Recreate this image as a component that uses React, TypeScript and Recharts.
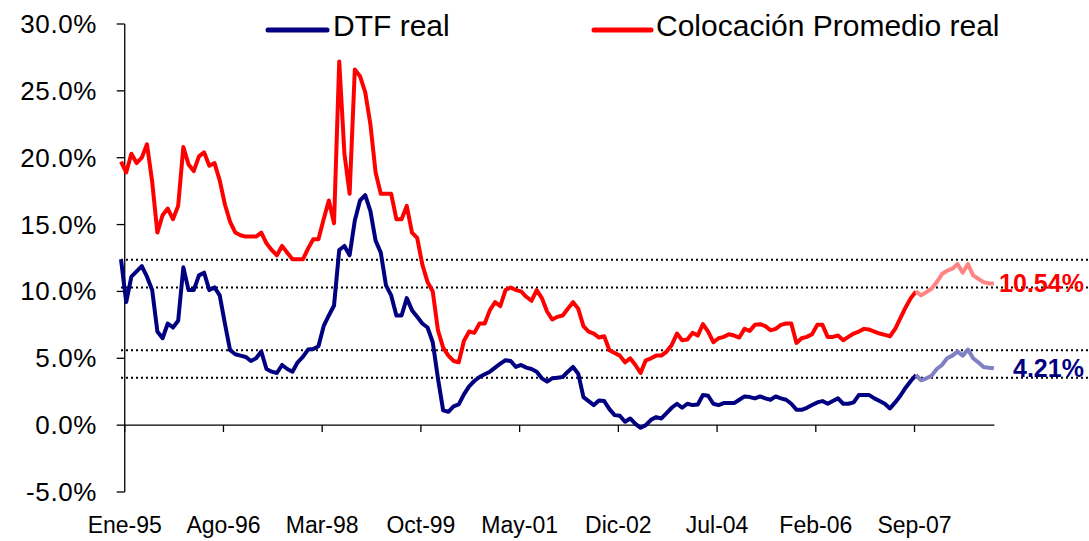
import React from "react"
import { LineChart, Line, XAxis, YAxis, ReferenceLine, LabelList } from "recharts"

// monthly, Ene-95 .. Ene-09
const colocacion = [
  19.7, 18.9, 20.3, 19.6, 20.0, 21.0, 18.2, 14.4, 15.7, 16.2,
  15.4, 16.4, 20.8, 19.5, 19.0, 20.1, 20.4, 19.4, 19.6, 18.3,
  16.5, 15.2, 14.4, 14.2, 14.1, 14.1, 14.1, 14.4, 13.6, 13.1,
  12.7, 13.4, 12.9, 12.4, 12.4, 12.4, 13.2, 13.9, 13.9, 15.4,
  16.8, 15.1, 27.2, 20.3, 17.3, 26.6, 26.1, 24.9, 22.5, 18.9,
  17.3, 17.3, 17.3, 15.4, 15.4, 16.4, 14.4, 14.0, 12.0, 10.7,
  10.0, 7.1, 5.8, 5.2, 4.8, 4.7, 6.3, 7.0, 6.9, 7.6,
  7.6, 8.6, 9.2, 8.9, 10.1, 10.3, 10.1, 10.0, 9.6, 9.3,
  10.1, 9.5, 8.5, 7.9, 8.1, 8.2, 8.7, 9.2, 8.7, 7.4,
  7.0, 6.85, 6.55, 6.65, 5.6, 5.4, 5.2, 4.7, 5.0, 4.5,
  3.9, 4.85, 5.0, 5.2, 5.2, 5.5, 6.0, 6.85, 6.35, 6.4,
  6.9, 6.7, 7.55, 7.0, 6.2, 6.5, 6.6, 6.8, 6.7, 6.55,
  7.2, 7.05, 7.5, 7.55, 7.4, 7.1, 7.2, 7.5, 7.6, 7.6,
  6.15, 6.5, 6.6, 6.8, 7.5, 7.5, 6.6, 6.6, 6.7, 6.35,
  6.6, 6.85, 7.0, 7.2, 7.15, 7.0, 6.85, 6.75, 6.65, 7.2,
  8.0, 8.8, 9.5, 10.0, 9.7, 9.95, 10.2, 10.7, 11.3, 11.55,
  11.7, 12.05, 11.4, 12.05, 11.2, 10.95, 10.7, 10.6, 10.6,
]

const dtf = [
  12.4, 9.2, 11.1, 11.5, 11.9, 11.1, 10.1, 7.0, 6.5, 7.6,
  7.3, 7.8, 11.8, 10.1, 10.1, 11.2, 11.4, 10.1, 10.3, 9.7,
  7.6, 5.6, 5.3, 5.2, 5.1, 4.8, 5.0, 5.5, 4.2, 4.0,
  3.9, 4.5, 4.2, 4.0, 4.7, 5.1, 5.65, 5.7, 5.9, 7.4,
  8.2, 8.95, 13.1, 13.4, 12.7, 15.3, 16.8, 17.2, 16.0, 13.8,
  12.9, 10.45, 9.7, 8.2, 8.2, 9.5, 8.6, 8.1, 7.6, 7.3,
  6.2, 3.5, 1.1, 1.0, 1.4, 1.55, 2.3, 2.9, 3.3, 3.6,
  3.8, 4.0, 4.3, 4.6, 4.85, 4.8, 4.35, 4.5, 4.3, 4.2,
  4.0, 3.5, 3.25, 3.5, 3.55, 3.6, 4.0, 4.35, 3.85, 2.1,
  1.8, 1.5, 1.85, 1.8, 1.2, 0.75, 0.7, 0.25, 0.5, 0.1,
  -0.2, 0.0, 0.4, 0.6, 0.5, 0.9, 1.3, 1.6, 1.3, 1.6,
  1.5, 1.55, 2.25, 2.2, 1.6, 1.5, 1.65, 1.65, 1.65, 1.9,
  2.15, 2.1, 2.0, 2.15, 2.0, 1.9, 2.15, 2.0, 1.9, 1.6,
  1.15, 1.15, 1.3, 1.5, 1.7, 1.8, 1.6, 1.8, 2.0, 1.6,
  1.6, 1.7, 2.25, 2.25, 2.25, 2.0, 1.8, 1.6, 1.25, 1.7,
  2.2, 2.8, 3.3, 3.75, 3.35, 3.5, 3.7, 4.2, 4.5, 5.0,
  5.2, 5.5, 5.2, 5.65, 5.0, 4.7, 4.35, 4.3, 4.25,
]

const tickLabels = ["Ene-95", "Ago-96", "Mar-98", "Oct-99", "May-01", "Dic-02", "Jul-04", "Feb-06", "Sep-07"]
const yTicks = [-5, 0, 5, 10, 15, 20, 25, 30]
const refLevels = [12.37, 10.3, 5.6, 3.55]
const lastColocacion = "10.54%"
const lastDtf = "4.21%"
const splitAt = 153 // from here on the series is drawn in a lighter tone

const RED = "#ff0000"
const NAVY = "#000080"
const RED_LIGHT = "#ff8585"
const NAVY_LIGHT = "#8080c4"
const FONT = "'Liberation Sans', Arial, sans-serif"

const tickStep = 19
const tickOffset = 0.72
const tickPos = tickLabels.map((_, k) => k * tickStep + tickOffset)

const rows = colocacion.map((v, i) => ({
  m: i,
  col: i <= splitAt ? v : null,
  dtf: i <= splitAt ? dtf[i] : null,
  colP: i >= splitAt ? v : null,
  dtfP: i >= splitAt ? dtf[i] : null,
}))

function YTick(props: any) {
  const { x, y, payload } = props
  return (
    <g>
      <line x1={x + 3.7} x2={x + 11.7} y1={y} y2={y} stroke="#000" strokeWidth={1.3} />
      <text x={x - 16} y={y + 9} textAnchor="end" fontSize={26} fontFamily={FONT} fill="#000" letterSpacing={0.6}>
        {payload.value.toFixed(1)}%
      </text>
    </g>
  )
}

function XTick(props: any) {
  const { x, y, index } = props
  return (
    <g>
      <line x1={x} x2={x} y1={y - 75} y2={y - 68} stroke="#000" strokeWidth={1.3} />
      <text x={x} y={y + 33} textAnchor="middle" fontSize={23} fontFamily={FONT} fill="#000">
        {tickLabels[index]}
      </text>
    </g>
  )
}

const endLabel = (text: string, color: string) => (p: any) =>
  p.index === colocacion.length - 1 ? (
    <text x={p.x + 90} y={p.y + 9} textAnchor="end" fill={color} fontWeight="bold" fontSize={25} fontFamily={FONT}>
      {text}
    </text>
  ) : null

export default function App() {
  return (
    <div style={{ position: "relative", width: 1089, height: 541 }}>
      <style>{"body{margin:0}"}</style>
      <LineChart width={1089} height={541} data={rows} margin={{ top: 24, right: 0, bottom: 0, left: 0 }}>
        <XAxis
          dataKey="m"
          type="number"
          domain={[0, 186.3]}
          ticks={tickPos}
          interval={0}
          axisLine={false}
          tickLine={false}
          height={49}
          tick={<XTick />}
        />
        <YAxis
          domain={[-5, 30]}
          ticks={yTicks}
          width={121}
          axisLine={false}
          tickLine={false}
          tick={<YTick />}
        />
        {refLevels.map((lv) => (
          <ReferenceLine key={lv} y={lv} stroke="#000" strokeWidth={2} strokeDasharray="2 3" />
        ))}
        <ReferenceLine x={tickOffset} stroke="#000" strokeWidth={1.3} />
        <ReferenceLine
          segment={[{ x: tickOffset, y: 0 }, { x: 168.1, y: 0 }]}
          stroke="#000"
          strokeWidth={1.3}
        />
        <Line dataKey="col" stroke={RED} strokeWidth={4} dot={false} isAnimationActive={false} strokeLinejoin="round" />
        <Line dataKey="dtf" stroke={NAVY} strokeWidth={4} dot={false} isAnimationActive={false} strokeLinejoin="round" />
        <Line dataKey="colP" stroke={RED_LIGHT} strokeWidth={4} dot={false} isAnimationActive={false} strokeLinejoin="round">
          <LabelList dataKey="colP" content={endLabel(lastColocacion, RED)} />
        </Line>
        <Line dataKey="dtfP" stroke={NAVY_LIGHT} strokeWidth={4} dot={false} isAnimationActive={false} strokeLinejoin="round">
          <LabelList dataKey="dtfP" content={endLabel(lastDtf, NAVY)} />
        </Line>
      </LineChart>
      <svg width={1089} height={50} style={{ position: "absolute", left: 0, top: 0, pointerEvents: "none" }}>
        <line x1={268} x2={327} y1={30} y2={30} stroke={NAVY} strokeWidth={5} strokeLinecap="round" />
        <text x={333} y={36} fontSize={30} fontFamily={FONT} fill="#000">DTF real</text>
        <line x1={594} x2={651} y1={30} y2={30} stroke={RED} strokeWidth={5} strokeLinecap="round" />
        <text x={656} y={36} fontSize={30} fontFamily={FONT} fill="#000">Colocación Promedio real</text>
      </svg>
    </div>
  )
}
